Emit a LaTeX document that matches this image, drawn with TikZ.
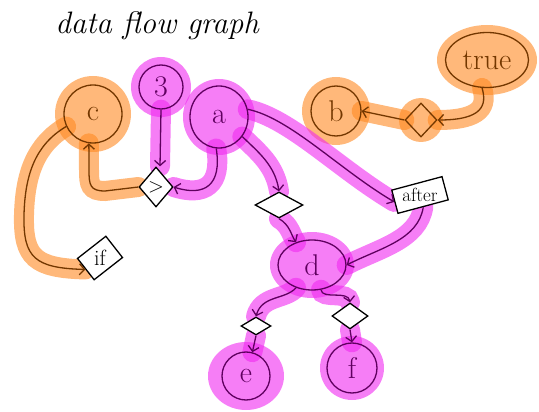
\documentclass[tikz,border=0pt]{standalone}
\usetikzlibrary{arrows.meta,backgrounds,shapes.geometric}
\definecolor{mag}{RGB}{240,40,240}
\definecolor{org}{RGB}{255,137,33}
\definecolor{purp}{RGB}{95,0,95}
\definecolor{brn}{RGB}{115,55,0}
\newcommand\flowedge[3]{%
  \begin{pgfonlayer}{background}\path[#1] #3;\end{pgfonlayer}
  \draw[#2] #3;}
\begin{document}
\begin{tikzpicture}[x=1pt,y=-1pt,
  tip/.style={-{Straight Barb[length=5pt,width=11pt,line width=1.3pt]}},
  mline/.style={draw=purp,line width=1.3pt,tip},
  oline/.style={draw=brn,line width=1.3pt,tip},
  mhalo/.style={draw=mag,line width=20pt,opacity=0.6,line cap=round},
  ohalo/.style={draw=org,line width=20pt,opacity=0.6,line cap=round},
  mcirc/.style={circle,draw=purp,line width=1.3pt,inner sep=0pt,text=purp,font=\fontsize{30}{30}\selectfont},
  ocirc/.style={circle,draw=brn,line width=1.3pt,inner sep=0pt,text=brn,font=\fontsize{30}{30}\selectfont},
  dbox/.style={diamond,draw=black,line width=1.3pt,fill=white,inner sep=0pt},
  rbox/.style={rectangle,draw=black,line width=1.3pt,fill=white,inner sep=0pt},
  lbl/.style={inner sep=0pt}]
\useasboundingbox (0,0) rectangle (539,412);

\node[font=\itshape\fontsize{31}{34}\selectfont] (title) at (157,26) {data flow graph};

% nodes
\node[ocirc,minimum size=58] (c) at (93,114) {c};
\node[mcirc,minimum size=44] (n3) at (161,87) {3};
\node[mcirc,ellipse,minimum width=58,minimum height=62] (a) at (219,117) {a};
\node[mcirc,ellipse,minimum width=68,minimum height=50] (d) at (312,265) {d};
\node[mcirc,minimum size=48] (e) at (246,376) {e};
\node[mcirc,minimum size=50] (f) at (352,368) {f};
\node[ocirc,ellipse,minimum width=83,minimum height=55] (t) at (487,60) {true};
\node[ocirc,minimum size=50] (b) at (336,111) {b};

\node[dbox,minimum width=34,minimum height=40,font=\fontsize{20}{20}\selectfont] (gt) at (156,187) {$>$};
\node[dbox,minimum width=48,minimum height=26] (sd) at (279,205) {};
\node[dbox,minimum width=30,minimum height=18] (ld) at (256,326) {};
\node[dbox,minimum width=36,minimum height=26] (rd) at (350,316) {};
\node[diamond,draw=brn,line width=1.3pt,inner sep=0pt,minimum width=32,minimum height=34] (od) at (421,120) {};
\node[rbox,minimum width=52,minimum height=24,rotate=15] (after) at (420,195) {};
\node[lbl,font=\fontsize{19}{19}\selectfont] (afterlbl) at (after.center) {after};
\node[rbox,minimum width=36,minimum height=27,rotate=38] (if) at (100,258) {};
\node[lbl,font=\fontsize{22}{22}\selectfont] (iflbl) at (if.center) {if};

% node halos
\begin{pgfonlayer}{background}
\fill[org,opacity=0.6] (c) circle[radius=38];
\fill[mag,opacity=0.6] (n3) circle[radius=30];
\fill[mag,opacity=0.6] (a) ellipse[x radius=36,y radius=38];
\fill[mag,opacity=0.6] (d) ellipse[x radius=42,y radius=33];
\fill[mag,opacity=0.6] (e) ellipse[x radius=38,y radius=34];
\fill[mag,opacity=0.6] (f) circle[radius=32];
\fill[org,opacity=0.6] (t) ellipse[x radius=50,y radius=35];
\fill[org,opacity=0.6] (b) circle[radius=34];
\fill[org,opacity=0.6] (od) circle[radius=22];
\end{pgfonlayer}

% connectors
\flowedge{mhalo}{mline}{(n3.south) -- ([xshift=4]gt.north)}
\flowedge{mhalo}{mline}{(a.265) .. controls (222,185) and (205,197) .. (gt.east)}
\flowedge{ohalo}{oline}{(gt.west) -- (105,191) .. controls (90,191) and (89,185) .. (89,170) -- (c.262)}
\flowedge{ohalo}{oline}{(c.205) .. controls (35,145) and (25,175) .. (24,215) .. controls (23,258) and (35,268) .. (if.west)}
\flowedge{mhalo}{mline}{(a.-40) .. controls (258,152) and (275,165) .. (sd.north)}
\flowedge{mhalo}{mline}{(a.15) .. controls (290,118) and (340,170) .. (after.west)}
\flowedge{mhalo}{mline}{(sd.south) .. controls (290,225) and (291,235) .. (d.125)}
\flowedge{mhalo}{mline}{(after.south) .. controls (418,240) and (380,248) .. (d.east)}
\flowedge{mhalo}{mline}{(d.-125) .. controls (285,300) and (262,295) .. (ld.north)}
\flowedge{mhalo}{mline}{(ld.south) -- (e.75)}
\flowedge{mhalo}{mline}{(d.-70) .. controls (322,300) and (348,290) .. (rd.north)}
\flowedge{mhalo}{mline}{(rd.south) -- (f.north)}
\flowedge{ohalo}{oline}{(t.-100) .. controls (487,105) and (483,120) .. (od.east)}
\flowedge{ohalo}{oline}{(od.west) -- (b.east)}
\end{tikzpicture}
\end{document}
